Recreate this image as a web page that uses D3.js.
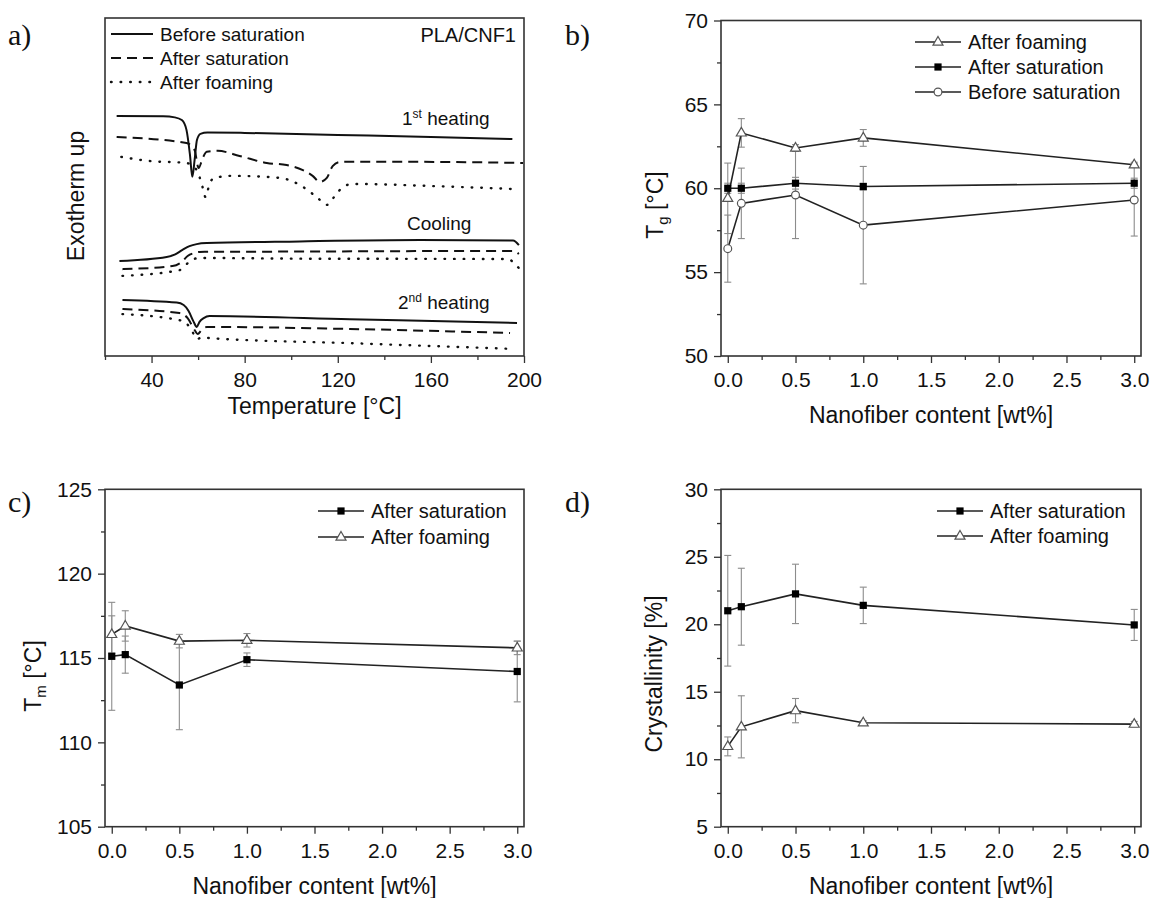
<!DOCTYPE html>
<html lang="en">
<head>
<meta charset="utf-8">
<title>PLA/CNF1 thermal analysis</title>
<script src="https://cdnjs.cloudflare.com/ajax/libs/d3/7.8.5/d3.min.js"></script>
<style>
  body { margin: 0; background: #fff; }
  svg { display: block; font-family: "Liberation Sans", Arial, sans-serif; }
</style>
</head>
<body>
<script>
// ---- panel a: DSC traces, [temperature (°C), signal (arb. units)] ----
var heat1Before = [[25,71.0],[45,70.9],[50,70.6],[53,69.8],[55,66.9],[56.5,59.5],[57.5,53.0],[58.5,58.0],[59.5,63.9],[61,65.7],[64,66.1],[80,66.0],[120,65.4],[160,64.8],[195,64.2]];
var heat1Sat = [[25,64.8],[55,63.0],[58.5,60.9],[60.2,55.6],[62,58.6],[63.7,60.4],[68.4,60.7],[77.8,59.2],[89.5,57.1],[98,56.5],[105,55.0],[109.2,53.3],[112.3,51.5],[115.3,52.7],[117.8,56.2],[120.9,57.4],[129.5,57.5],[168,57.4],[199.6,57.1]];
var heat1Foam = [[27,58.9],[39,57.7],[55,57.1],[59.4,55.0],[61.9,50.0],[63.2,47.0],[65,51.2],[67.1,52.7],[74.8,53.3],[95,52.7],[103.7,50.6],[111,47.0],[115.3,44.7],[118.7,47.3],[122.2,50.0],[126.5,50.9],[159.6,50.3],[195.3,49.4]];
var coolBefore = [[26.2,28.1],[46.5,29.3],[49.9,30.0],[53.3,31.4],[56.3,32.5],[59.4,33.1],[63.7,33.4],[103.7,33.9],[155.3,34.3],[195.3,34.2],[197.8,32.8]];
var coolSat = [[27.5,25.7],[49,26.6],[52.9,27.8],[55.5,29.6],[58.5,30.5],[60.6,30.8],[103.7,30.9],[195.3,31.1],[197.8,30.2]];
var coolFoam = [[27.5,23.7],[52,25.4],[54.6,26.9],[57.2,28.4],[60.6,29.0],[103.7,28.8],[192.7,28.7],[197.8,26.0]];
var heat2Before = [[27.5,16.6],[50.8,15.8],[53.8,15.1],[55.9,13.3],[58.1,10.1],[59.4,8.6],[60.6,10.1],[62.4,11.2],[64.9,11.8],[125.2,10.9],[197,9.8]];
var heat2Sat = [[27.5,13.9],[52,12.7],[55.5,11.2],[58.5,7.7],[59.8,6.5],[61.5,7.7],[63.7,8.6],[125.2,8.0],[194,6.8]];
var heat2Foam = [[27.5,12.4],[53.3,10.4],[57.2,7.7],[59.4,5.0],[62,5.6],[64.9,5.3],[125.2,3.8],[195.3,2.1]];

var tempTicks = [40, 80, 120, 160, 200];
var tempMinor = [20, 60, 100, 140, 180];

// ---- panels b-d: values vs nanofiber content ----
var content = [0, 0.1, 0.5, 1.0, 3.0];
var contentTicks = [0, 0.5, 1.0, 1.5, 2.0, 2.5, 3.0];
var contentMinor = [0.25, 0.75, 1.25, 1.75, 2.25, 2.75];

var tgFoam = [59.4, 63.3, 62.4, 63.0, 61.4];
var tgFoamErr = [2.1, 0.85, 0.2, 0.5, 0.15];
var tgSat = [60.0, 60.0, 60.3, 60.1, 60.3];
var tgSatErr = [0.3, 0.3, 0.35, 0.2, 0.3];
var tgBefore = [56.4, 59.1, 59.6, 57.8, 59.3];
var tgBeforeErr = [2.0, 2.1, 2.6, 3.5, 2.15];
var tgTicks = [50, 55, 60, 65, 70];
var tgMinor = [52.5, 57.5, 62.5, 67.5];

var tmSat = [115.1, 115.2, 113.4, 114.9, 114.2];
var tmSatErr = [3.2, 1.1, 2.65, 0.4, 1.8];
var tmFoam = [116.4, 116.9, 116.0, 116.05, 115.6];
var tmFoamErr = [1.1, 0.9, 0.4, 0.4, 0.4];
var tmTicks = [105, 110, 115, 120, 125];
var tmMinor = [107.5, 112.5, 117.5, 122.5];

var xcSat = [21.0, 21.3, 22.25, 21.4, 19.95];
var xcSatErr = [4.1, 2.85, 2.2, 1.35, 1.15];
var xcFoam = [10.95, 12.4, 13.6, 12.7, 12.6];
var xcFoamErr = [0.7, 2.3, 0.9, 0.15, 0.2];
var xcTicks = [5, 10, 15, 20, 25, 30];
var xcMinor = [7.5, 12.5, 17.5, 22.5, 27.5];

var W = 1150, H = 898;
var axisColor = "#333";
var errColor = "#8c8c8c";

var svg = d3.select("body").append("svg")
    .attr("width", W)
    .attr("height", H);
svg.append("rect").attr("width", W).attr("height", H).attr("fill", "#fff");

function styleAxis(sel, size) {
    sel.select(".domain").remove();
    sel.selectAll(".tick line").attr("stroke", axisColor).attr("stroke-width", 1.3);
    sel.selectAll(".tick text")
        .attr("fill", "#111")
        .attr("font-size", size)
        .attr("font-family", "Liberation Sans, Arial, sans-serif");
}

function frame(x, y) {
    svg.append("rect")
        .attr("x", x.range()[0])
        .attr("y", y.range()[1])
        .attr("width", x.range()[1] - x.range()[0])
        .attr("height", y.range()[0] - y.range()[1])
        .attr("fill", "none")
        .attr("stroke", axisColor)
        .attr("stroke-width", 1.6);
}

function bottomAxis(x, y, major, minor, fmt) {
    var b = y.range()[0];
    svg.append("g").attr("transform", "translate(0," + b + ")")
        .call(d3.axisBottom(x).tickValues(minor).tickSize(4).tickFormat(""))
        .call(styleAxis, 21);
    svg.append("g").attr("transform", "translate(0," + b + ")")
        .call(d3.axisBottom(x).tickValues(major).tickSize(7).tickPadding(9).tickFormat(fmt))
        .call(styleAxis, 21);
}

function leftAxis(x, y, major, minor) {
    var l = x.range()[0];
    svg.append("g").attr("transform", "translate(" + l + ",0)")
        .call(d3.axisLeft(y).tickValues(minor).tickSize(4).tickFormat(""))
        .call(styleAxis, 21);
    svg.append("g").attr("transform", "translate(" + l + ",0)")
        .call(d3.axisLeft(y).tickValues(major).tickSize(7).tickPadding(6).tickFormat(d3.format("d")))
        .call(styleAxis, 21);
}

function panelLabel(txt, x, y) {
    svg.append("text").attr("x", x).attr("y", y)
        .attr("font-family", "Liberation Serif, Times New Roman, serif")
        .attr("font-size", 30)
        .attr("fill", "#111")
        .text(txt);
}

function axisTitle(txt, x, y, size) {
    return svg.append("text").attr("x", x).attr("y", y)
        .attr("text-anchor", "middle")
        .attr("font-size", size || 23)
        .attr("fill", "#111")
        .text(txt);
}

// rotated title with a subscript, e.g. T_g [°C]
function yTitleSub(main, sub, rest, x, y) {
    var t = svg.append("text")
        .attr("transform", "translate(" + x + "," + y + ") rotate(-90)")
        .attr("text-anchor", "middle")
        .attr("font-size", 23)
        .attr("fill", "#111");
    t.append("tspan").text(main);
    t.append("tspan").attr("font-size", 15).attr("dy", "0.3em").text(sub);
    t.append("tspan").attr("dy", "-0.2em").text(rest);
}

// ================= panel a =================
var ax = d3.scaleLinear().domain([20, 200]).range([105, 524]);
var ay = d3.scaleLinear().domain([0, 100]).range([356, 18]);

var solid = {dash: null}, dashed = {dash: "10,6"}, dotted = {dash: "0.6,9"};
var dscCurves = [
    [heat1Before, solid], [heat1Sat, dashed], [heat1Foam, dotted],
    [coolBefore, solid], [coolSat, dashed], [coolFoam, dotted],
    [heat2Before, solid], [heat2Sat, dashed], [heat2Foam, dotted]
];

var dscLine = d3.line()
    .x(function (d) { return ax(d[0]); })
    .y(function (d) { return ay(d[1]); })
    .curve(d3.curveMonotoneX);

dscCurves.forEach(function (c) {
    svg.append("path")
        .attr("d", dscLine(c[0]))
        .attr("fill", "none")
        .attr("stroke", "#111")
        .attr("stroke-width", c[1] === dotted ? 2.4 : 2)
        .attr("stroke-linecap", c[1] === dotted ? "round" : "butt")
        .attr("stroke-dasharray", c[1].dash);
});

frame(ax, ay);
bottomAxis(ax, ay, tempTicks, tempMinor, d3.format("d"));

// legend a
var aLegend = [["Before saturation", solid], ["After saturation", dashed], ["After foaming", dotted]];
aLegend.forEach(function (d, i) {
    var yy = 34 + i * 24;
    svg.append("line").attr("x1", 111).attr("x2", 153).attr("y1", yy).attr("y2", yy)
        .attr("stroke", "#111")
        .attr("stroke-width", d[1] === dotted ? 2.4 : 2)
        .attr("stroke-linecap", d[1] === dotted ? "round" : "butt")
        .attr("stroke-dasharray", d[1].dash);
    svg.append("text").attr("x", 160).attr("y", yy).attr("dy", "0.35em")
        .attr("font-size", 19).attr("fill", "#111").text(d[0]);
});
svg.append("text").attr("x", 516).attr("y", 35).attr("dy", "0.35em")
    .attr("text-anchor", "end").attr("font-size", 20).attr("fill", "#111").text("PLA/CNF1");

function stageLabel(num, sup, rest, x, y) {
    var t = svg.append("text").attr("x", x).attr("y", y)
        .attr("font-size", 19).attr("fill", "#111");
    t.append("tspan").text(num);
    if (sup) t.append("tspan").attr("font-size", 12).attr("dy", "-0.6em").text(sup);
    t.append("tspan").attr("dy", sup ? "0.38em" : 0).text(rest);
}
stageLabel("1", "st", " heating", 402, 125);
stageLabel("", null, "Cooling", 407, 230);
stageLabel("2", "nd", " heating", 398, 309);

axisTitle("Temperature [°C]", 314.5, 414);
svg.append("text")
    .attr("transform", "translate(84,196) rotate(-90)")
    .attr("text-anchor", "middle").attr("font-size", 23).attr("fill", "#111")
    .text("Exotherm up");
panelLabel("a)", 8, 45);

// ================= panels b-d =================
var tri = "M0,-5.5L5,3.1L-5,3.1Z";

function marker(sel, kind) {
    if (kind === "square") {
        sel.append("rect").attr("x", -3.6).attr("y", -3.6).attr("width", 7.2).attr("height", 7.2)
            .attr("fill", "#000");
    } else if (kind === "triangle") {
        sel.append("path").attr("d", tri).attr("fill", "#fff")
            .attr("stroke", "#555").attr("stroke-width", 1.2);
    } else {
        sel.append("circle").attr("r", 3.9).attr("fill", "#fff")
            .attr("stroke", "#555").attr("stroke-width", 1.2);
    }
}

function seriesPanel(cfg) {
    var x = d3.scaleLinear().domain([-0.05, 3.05]).range([cfg.left, cfg.right]);
    var y = d3.scaleLinear().domain(cfg.ydomain).range([cfg.bottom, cfg.top]);

    var line = d3.line()
        .x(function (d) { return x(d[0]); })
        .y(function (d) { return y(d[1]); });

    // error bars first
    cfg.series.forEach(function (s) {
        content.forEach(function (c, i) {
            var cx = x(c), y1 = y(s.values[i] - s.errs[i]), y2 = y(s.values[i] + s.errs[i]);
            var g = svg.append("g").attr("stroke", errColor).attr("stroke-width", 1.1);
            g.append("line").attr("x1", cx).attr("x2", cx).attr("y1", y1).attr("y2", y2);
            g.append("line").attr("x1", cx - 3.5).attr("x2", cx + 3.5).attr("y1", y1).attr("y2", y1);
            g.append("line").attr("x1", cx - 3.5).attr("x2", cx + 3.5).attr("y1", y2).attr("y2", y2);
        });
    });

    cfg.series.forEach(function (s) {
        svg.append("path")
            .attr("d", line(content.map(function (c, i) { return [c, s.values[i]]; })))
            .attr("fill", "none").attr("stroke", "#222").attr("stroke-width", 1.6);
    });

    cfg.series.forEach(function (s) {
        content.forEach(function (c, i) {
            svg.append("g").attr("transform", "translate(" + x(c) + "," + y(s.values[i]) + ")")
                .call(marker, s.marker);
        });
    });

    frame(x, y);
    bottomAxis(x, y, contentTicks, contentMinor, d3.format(".1f"));
    leftAxis(x, y, cfg.yticks, cfg.yminor);

    cfg.series.forEach(function (s, i) {
        var yy = cfg.legY + i * cfg.legDy;
        svg.append("line").attr("x1", cfg.legX).attr("x2", cfg.legX + 46).attr("y1", yy).attr("y2", yy)
            .attr("stroke", "#222").attr("stroke-width", 1.6);
        svg.append("g").attr("transform", "translate(" + (cfg.legX + 23) + "," + yy + ")")
            .call(marker, s.marker);
        svg.append("text").attr("x", cfg.legX + 53).attr("y", yy).attr("dy", "0.35em")
            .attr("font-size", 20).attr("fill", "#111").text(s.name);
    });

    axisTitle("Nanofiber content [wt%]", (cfg.left + cfg.right) / 2, cfg.bottom + 67);
}

// b) glass transition
seriesPanel({
    left: 721, right: 1141, top: 20.5, bottom: 356,
    ydomain: [50, 70], yticks: tgTicks, yminor: tgMinor,
    legX: 915, legY: 42, legDy: 25,
    series: [
        {name: "After foaming", values: tgFoam, errs: tgFoamErr, marker: "triangle"},
        {name: "After saturation", values: tgSat, errs: tgSatErr, marker: "square"},
        {name: "Before saturation", values: tgBefore, errs: tgBeforeErr, marker: "circle"}
    ]
});
yTitleSub("T", "g", " [°C]", 663, 205);
panelLabel("b)", 565, 45);

// c) melting
seriesPanel({
    left: 105, right: 524, top: 489.3, bottom: 826.7,
    ydomain: [105, 125], yticks: tmTicks, yminor: tmMinor,
    legX: 318, legY: 511, legDy: 26,
    series: [
        {name: "After saturation", values: tmSat, errs: tmSatErr, marker: "square"},
        {name: "After foaming", values: tmFoam, errs: tmFoamErr, marker: "triangle"}
    ]
});
yTitleSub("T", "m", " [°C]", 41, 676);
panelLabel("c)", 8, 512);

// d) crystallinity
seriesPanel({
    left: 721, right: 1141, top: 489.3, bottom: 826.7,
    ydomain: [5, 30], yticks: xcTicks, yminor: xcMinor,
    legX: 937, legY: 511, legDy: 25,
    series: [
        {name: "After saturation", values: xcSat, errs: xcSatErr, marker: "square"},
        {name: "After foaming", values: xcFoam, errs: xcFoamErr, marker: "triangle"}
    ]
});
svg.append("text")
    .attr("transform", "translate(662,674) rotate(-90)")
    .attr("text-anchor", "middle").attr("font-size", 23).attr("fill", "#111")
    .text("Crystallinity [%]");
panelLabel("d)", 565, 512);
</script>
</body>
</html>
